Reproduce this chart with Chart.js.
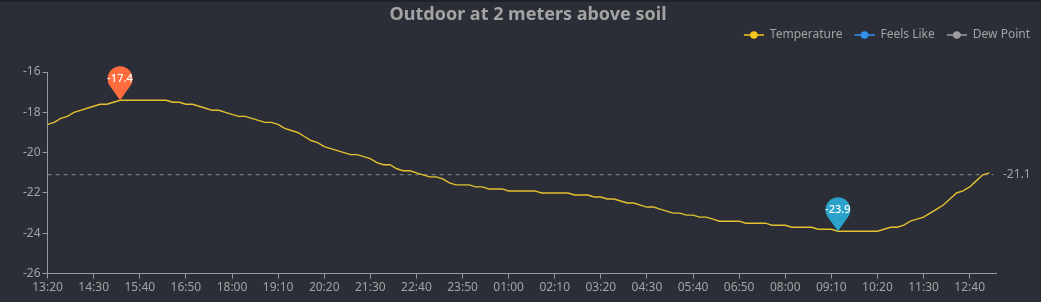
<!DOCTYPE html>
<html>
<head>
<meta charset="utf-8">
<title>Outdoor at 2 meters above soil</title>
<script src="https://cdn.jsdelivr.net/npm/chart.js@4"></script>
<style>
  html, body { margin: 0; padding: 0; background: #2b2e36; }
  #wrap { width: 1041px; height: 302px; }
</style>
</head>
<body>
<div id="wrap"><canvas id="chart"></canvas></div>
<script>
// 10 minute readings, 13:20 -> 13:10 next day
const tickLabels = ['13:20', '14:30', '15:40', '16:50', '18:00', '19:10', '20:20', '21:30', '22:40', '23:50',
  '01:00', '02:10', '03:20', '04:30', '05:40', '06:50', '08:00', '09:10', '10:20', '11:30', '12:40'];

const temperature = [
  -18.6, -18.5, -18.3, -18.2, -18.0, -17.9, -17.8, -17.7, -17.6, -17.6,
  -17.5, -17.4, -17.4, -17.4, -17.4, -17.4, -17.4, -17.4, -17.4, -17.5,
  -17.5, -17.6, -17.6, -17.7, -17.8, -17.9, -17.9, -18.0, -18.1, -18.2,
  -18.2, -18.3, -18.4, -18.5, -18.5, -18.6, -18.8, -18.9, -19.0, -19.2,
  -19.4, -19.5, -19.7, -19.8, -19.9, -20.0, -20.1, -20.1, -20.2, -20.3,
  -20.5, -20.6, -20.6, -20.8, -20.9, -20.9, -21.0, -21.1, -21.2, -21.2,
  -21.3, -21.5, -21.6, -21.6, -21.6, -21.7, -21.7, -21.8, -21.8, -21.8,
  -21.9, -21.9, -21.9, -21.9, -21.9, -22.0, -22.0, -22.0, -22.0, -22.0,
  -22.1, -22.1, -22.1, -22.2, -22.2, -22.3, -22.3, -22.4, -22.5, -22.5,
  -22.6, -22.7, -22.7, -22.8, -22.9, -23.0, -23.0, -23.1, -23.1, -23.2,
  -23.2, -23.3, -23.4, -23.4, -23.4, -23.4, -23.5, -23.5, -23.5, -23.5,
  -23.6, -23.6, -23.6, -23.7, -23.7, -23.7, -23.7, -23.8, -23.8, -23.8,
  -23.9, -23.9, -23.9, -23.9, -23.9, -23.9, -23.9, -23.8, -23.7, -23.7,
  -23.6, -23.4, -23.3, -23.2, -23.0, -22.8, -22.6, -22.3, -22.0, -21.9,
  -21.7, -21.4, -21.1, -21.0
];
const feelsLike = [];
const dewPoint = [];

const yTicks = [-26, -24, -22, -20, -18, -16];

// category labels every 10 minutes (one extra slot at the end of the axis)
const times = [];
for (let i = 0; i <= temperature.length; i++) {
  const m = (13 * 60 + 20 + i * 10) % 1440;
  times.push(String(Math.floor(m / 60)).padStart(2, '0') + ':' + String(m % 60).padStart(2, '0'));
}

const average = temperature.reduce((a, b) => a + b, 0) / temperature.length;
const maxIndex = temperature.indexOf(Math.max(...temperature));
const minIndex = temperature.indexOf(Math.min(...temperature));

const textColor = '#a3a3a3';
const axisColor = '#9a9a9a';
const FONT = '"Noto Sans", "Open Sans", sans-serif';

function legendIcon(color) {
  const c = document.createElement('canvas');
  c.width = 27;
  c.height = 10;
  const g = c.getContext('2d');
  g.strokeStyle = color;
  g.globalAlpha = 0.75;
  g.lineWidth = 2;
  g.beginPath();
  g.moveTo(7, 5);
  g.lineTo(27, 5);
  g.stroke();
  g.globalAlpha = 1;
  g.fillStyle = color;
  g.beginPath();
  g.arc(17, 5, 3.8, 0, Math.PI * 2);
  g.fill();
  return c;
}

const background = {
  id: 'background',
  beforeDraw(chart) {
    const ctx = chart.ctx;
    ctx.save();
    ctx.fillStyle = '#2b2e36';
    ctx.fillRect(0, 0, chart.width, chart.height);
    ctx.fillStyle = '#202126';
    ctx.fillRect(0, 0, chart.width, 2);
    ctx.restore();
  }
};

// more room between legend and plot
const legendSpacer = {
  id: 'legendSpacer',
  beforeLayout(chart) {
    const legend = chart.legend;
    if (!legend || legend._spaced) return;
    const fit = legend.fit;
    legend.fit = function () {
      fit.call(this);
      this.height += 21;
    };
    legend._spaced = true;
  }
};

// dashed average line
const averageLine = {
  id: 'averageLine',
  beforeDatasetsDraw(chart) {
    const { ctx, chartArea, scales } = chart;
    const y = scales.y.getPixelForValue(average);
    ctx.save();
    ctx.strokeStyle = '#8a8a8a';
    ctx.lineWidth = 1;
    ctx.setLineDash([4, 4]);
    ctx.beginPath();
    ctx.moveTo(chartArea.left, y);
    ctx.lineTo(scales.x.getPixelForValue(temperature.length - 1) + 4, y);
    ctx.stroke();
    ctx.restore();
  }
};

// max / min pins
const pins = {
  id: 'pins',
  afterDatasetsDraw(chart) {
    const { ctx, scales } = chart;
    const draw = (index, color) => {
      const x = scales.x.getPixelForValue(index);
      const ty = scales.y.getPixelForValue(temperature[index]);
      const r = 12.5, d = 21.5;
      const cy = ty - d;
      const t = Math.acos(r / d);
      ctx.save();
      ctx.fillStyle = color;
      ctx.beginPath();
      ctx.moveTo(x, ty);
      ctx.lineTo(x + r * Math.cos(Math.PI / 2 - t), cy + r * Math.sin(Math.PI / 2 - t));
      ctx.arc(x, cy, r, Math.PI / 2 - t, Math.PI / 2 + t, true);
      ctx.closePath();
      ctx.fill();
      ctx.fillStyle = '#ffffff';
      ctx.font = '500 11px ' + FONT;
      ctx.textAlign = 'center';
      ctx.textBaseline = 'middle';
      ctx.fillText(temperature[index].toFixed(1), x, cy);
      ctx.restore();
    };
    draw(maxIndex, '#ff6c3e');
    draw(minIndex, '#2ba2c9');
  }
};

new Chart(document.getElementById('chart'), {
  type: 'line',
  data: {
    labels: times,
    datasets: [
      { label: 'Temperature', data: temperature, borderColor: '#e3c130', backgroundColor: '#f7c51b',
        borderWidth: 1.4, pointRadius: 0, tension: 0, pointStyle: legendIcon('#f7c51b') },
      { label: 'Feels Like', data: feelsLike, borderColor: '#3592f2', backgroundColor: '#3592f2',
        borderWidth: 1.5, pointRadius: 0, pointStyle: legendIcon('#3592f2') },
      { label: 'Dew Point', data: dewPoint, borderColor: '#9e9e9e', backgroundColor: '#9e9e9e',
        borderWidth: 1.5, pointRadius: 0, pointStyle: legendIcon('#9e9e9e') }
    ]
  },
  options: {
    responsive: true,
    maintainAspectRatio: false,
    animation: false,
    layout: { padding: { left: 21, right: 6, top: 0, bottom: 5 } },
    plugins: {
      title: {
        display: true,
        text: 'Outdoor at 2 meters above soil',
        color: textColor,
        font: { family: FONT, size: 18, weight: 'bold', lineHeight: 1 },
        padding: { top: 6, bottom: 0 }
      },
      legend: {
        display: true,
        align: 'end',
        labels: {
          color: textColor,
          font: { family: FONT, size: 12 },
          usePointStyle: true,
          pointStyleWidth: 27,
          padding: 5
        }
      },
      tooltip: { enabled: false }
    },
    scales: {
      x: {
        offset: false,
        grid: { display: true, drawOnChartArea: false, drawTicks: true, tickLength: 5, color: axisColor },
        border: { display: true, color: axisColor },
        ticks: {
          autoSkip: false,
          maxRotation: 0,
          padding: 2,
          color: textColor,
          font: { family: FONT, size: 12 },
          callback(value) {
            const label = this.getLabelForValue(value);
            return tickLabels.includes(label) && value < temperature.length ? label : null;
          }
        }
      },
      y: {
        min: -26,
        max: -16,
        afterBuildTicks(scale) { scale.ticks = yTicks.map(v => ({ value: v })); },
        grid: { display: true, drawOnChartArea: false, drawTicks: true, tickLength: 5, color: axisColor },
        border: { display: true, color: axisColor },
        ticks: { color: textColor, padding: 2, font: { family: FONT, size: 12 } }
      },
      y2: {
        position: 'right',
        min: -26,
        max: -16,
        afterBuildTicks(scale) { scale.ticks = [{ value: average }]; },
        afterFit(scale) { scale.width = 39; },
        grid: { display: false, drawTicks: false },
        border: { display: false },
        ticks: {
          color: textColor,
          padding: 7,
          font: { family: FONT, size: 12 },
          callback: v => Number(v).toFixed(1)
        }
      }
    }
  },
  plugins: [background, legendSpacer, averageLine, pins]
});
</script>
</body>
</html>
